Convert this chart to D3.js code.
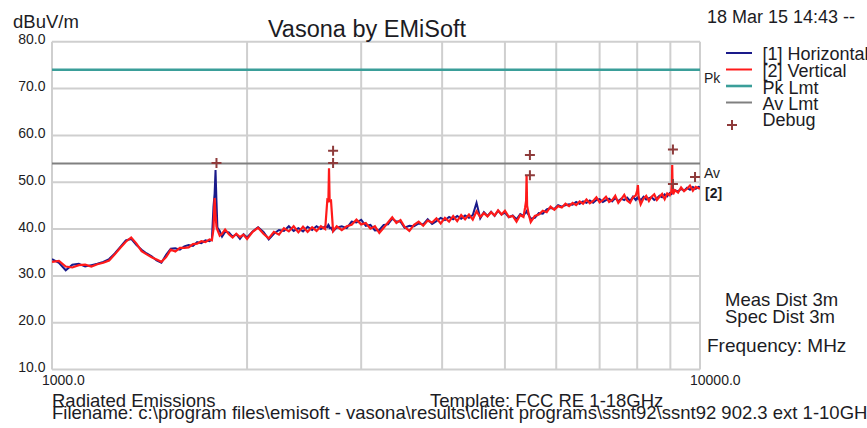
<!DOCTYPE html>
<html>
<head>
<meta charset="utf-8">
<script src="https://cdn.jsdelivr.net/npm/d3@7"></script>
<style>
  body { margin: 0; background: #fff; }
  svg { display: block; font-family: "Liberation Sans", Arial, sans-serif; }
  .grid line { stroke: #cfcfcf; stroke-width: 2; }
  .lbl { fill: #1c1c24; }
</style>
</head>
<body>
<svg id="chart"></svg>
<script>
// sweep frequencies (MHz)
const freqMHz = [
  1000,1025,1050,1075,1100,1125,1150,1175,1200,1225,
  1250,1275,1300,1325,1350,1375,1400,1425,1450,1475,
  1500,1525,1550,1575,1600,1625,1650,1675,1700,1725,
  1750,1765,1775,1782,1788,1794,1800,1815,1830,1850,
  1875,1900,1925,1950,1975,2000,2040,2080,2120,2160,
  2200,2240,2280,2320,2360,2400,2440,2480,2520,2560,
  2600,2640,2660,2670,2676,2682,2695,2715,2750,2800,
  2850,2900,2950,3000,3050,3100,3150,3200,3250,3300,
  3350,3400,3450,3500,3560,3620,3680,3740,3800,3860,
  3920,3980,4040,4100,4160,4220,4280,4340,4400,4460,
  4520,4580,4640,4700,4760,4820,4880,4940,5000,5070,
  5140,5210,5280,5340,5370,5390,5400,5410,5440,5480,
  5560,5640,5720,5800,5880,5960,6040,6120,6200,6280,
  6360,6440,6520,6600,6680,6760,6840,6920,7000,7080,
  7160,7240,7320,7400,7480,7560,7640,7720,7800,7880,
  7960,8000,8020,8040,8100,8180,8260,8340,8420,8500,
  8580,8660,8740,8820,8900,8980,9030,9050,9060,9070,
  9090,9150,9250,9350,9450,9550,9650,9750,9850,9950,
  10000
];

// [1] Horizontal, dBuV/m
const horizontal = [
  33.6,32.8,31.2,32.4,32.6,32.0,32.3,32.6,33.0,33.6,
  34.8,36.2,37.6,37.9,36.6,35.6,34.8,34.2,33.3,32.8,
  34.5,35.8,35.9,35.6,36.3,36.6,36.4,37.2,37.0,37.6,
  37.4,37.8,44.8,47.5,52.6,46.0,40.3,39.6,38.4,39.4,
  39.3,38.4,38.9,37.9,38.9,38.2,39.5,40.4,39.4,37.8,
  39.0,39.8,39.6,40.6,39.6,40.2,39.5,40.5,39.8,40.6,
  40.0,40.6,40.4,40.9,40.7,40.2,40.3,39.5,40.3,40.6,
  40.2,41.6,41.4,42.0,40.7,40.9,39.7,39.8,40.9,41.0,
  42.2,41.6,41.6,40.3,40.7,40.6,41.2,41.0,42.1,41.1,
  41.7,42.4,41.9,42.6,42.1,42.8,42.2,42.9,42.4,43.0,
  45.6,42.3,43.6,42.8,43.7,42.8,43.9,43.1,43.5,42.5,
  42.9,42.1,43.2,42.8,43.4,43.6,43.8,43.5,43.0,42.2,
  42.4,43.4,43.3,44.2,44.5,44.3,45.1,44.8,45.1,45.3,
  45.2,45.8,45.4,45.9,45.6,46.1,45.6,46.2,46.4,45.8,
  46.2,46.5,45.9,46.6,46.0,46.5,46.2,46.7,46.0,46.9,
  46.2,46.7,46.5,46.8,46.1,46.9,46.3,46.6,46.8,46.2,
  46.6,47.1,46.8,47.4,47.0,47.7,47.5,47.8,47.6,48.0,
  47.8,48.3,48.0,48.6,48.2,48.8,48.4,49.0,48.6,49.0,
  48.9
];

// [2] Vertical, dBuV/m
const vertical = [
  33.0,33.2,32.0,31.8,32.3,32.4,32.0,32.5,32.8,33.3,
  34.6,36.0,37.3,38.2,36.9,35.3,34.6,34.0,33.5,33.0,
  34.0,35.6,35.2,36.0,36.0,36.1,36.8,36.9,37.4,37.2,
  37.8,37.6,40.0,46.6,43.0,40.5,39.8,38.6,39.0,39.9,
  38.9,38.2,39.0,38.3,38.8,37.9,39.4,40.3,39.0,38.0,
  39.4,38.8,40.2,39.5,40.6,39.3,40.5,39.4,40.4,39.6,
  40.6,40.0,46.2,46.0,53.0,46.0,46.1,39.6,40.6,39.8,
  40.6,40.9,42.0,41.0,41.3,40.1,40.6,39.2,40.3,41.4,
  42.5,41.3,41.9,40.5,39.6,40.9,41.6,40.7,41.8,41.4,
  42.3,41.2,42.4,41.6,42.8,41.7,43.0,42.1,43.1,42.0,
  43.8,42.6,43.4,42.7,43.6,42.9,44.0,43.1,43.9,42.6,
  42.8,41.6,43.0,42.6,44.5,46.0,51.5,45.0,43.2,41.5,
  42.8,43.1,43.9,43.6,44.8,44.1,44.9,44.6,45.4,44.9,
  45.6,45.1,45.9,45.4,46.3,45.5,46.0,46.8,45.7,46.2,
  46.9,45.8,46.2,47.1,45.6,46.4,47.3,46.1,45.6,46.8,
  47.2,48.2,49.4,47.0,45.3,46.5,47.1,46.0,46.9,47.4,
  46.2,46.9,47.5,46.4,47.6,47.2,48.0,49.6,53.7,49.8,
  47.4,48.3,47.8,48.9,48.1,48.6,49.3,48.2,49.0,48.7,
  48.6
];

// debug markers
const debugFreq = [1794, 2715, 2715, 5464, 5464, 9083, 9083, 9825];
const debugVal  = [54.1, 56.7, 54.1, 55.8, 51.5, 57.0, 49.6, 51.1];

// limits
const pkLimit = 74;
const avLimit = 54;

const yTicks = [10, 20, 30, 40, 50, 60, 70, 80];
const xGrid = [1000, 2000, 3000, 4000, 5000, 6000, 7000, 8000, 9000, 10000];
const xLabels = [1000, 10000];

const legendNames = ['[1] Horizontal', '[2] Vertical', 'Pk Lmt', 'Av Lmt', 'Debug'];
const legendColors = ['#1a1a8a', '#ff1a1a', '#3a9e99', '#808080', '#8e3b3b'];

class EmiChart {
  constructor(_config) {
    this.config = {
      parentElement: _config.parentElement,
      containerWidth: _config.containerWidth || 867,
      containerHeight: _config.containerHeight || 428,
      margin: _config.margin || {top: 41.7, right: 167, bottom: 58.4, left: 52}
    };
    this.initVis();
  }

  initVis() {
    let vis = this;
    vis.width = vis.config.containerWidth - vis.config.margin.left - vis.config.margin.right;
    vis.height = vis.config.containerHeight - vis.config.margin.top - vis.config.margin.bottom;

    vis.xScale = d3.scaleLog().domain([1000, 10000]).range([0, vis.width]);
    vis.yScale = d3.scaleLinear().domain([10, 80]).range([vis.height, 0]);

    vis.svg = d3.select(vis.config.parentElement)
        .attr('width', vis.config.containerWidth)
        .attr('height', vis.config.containerHeight);

    vis.svg.append('rect')
        .attr('width', vis.config.containerWidth)
        .attr('height', vis.config.containerHeight)
        .attr('fill', '#fff');

    vis.chart = vis.svg.append('g')
        .attr('transform', `translate(${vis.config.margin.left},${vis.config.margin.top})`);

    vis.chart.append('clipPath').attr('id', 'plot-clip')
      .append('rect')
        .attr('width', vis.width)
        .attr('height', vis.height);

    // grid
    const grid = vis.chart.append('g').attr('class', 'grid');
    grid.selectAll('.hg').data(yTicks).join('line')
        .attr('x1', 0).attr('x2', vis.width)
        .attr('y1', d => vis.yScale(d)).attr('y2', d => vis.yScale(d));
    grid.selectAll('.vg').data(xGrid).join('line')
        .attr('y1', 0).attr('y2', vis.height)
        .attr('x1', d => vis.xScale(d)).attr('x2', d => vis.xScale(d));

    // y axis labels
    vis.yAxis = d3.axisLeft(vis.yScale)
        .tickValues(yTicks)
        .tickSize(0)
        .tickPadding(6.5)
        .tickFormat(d3.format('.1f'));
    vis.yAxisG = vis.chart.append('g').call(vis.yAxis);
    vis.yAxisG.select('.domain').remove();
    vis.yAxisG.selectAll('text')
        .attr('dy', '2px')
        .attr('fill', '#1c1c24')
        .attr('font-size', '14px')
        .attr('font-family', '"Liberation Sans", Arial, sans-serif');

    // x labels (only ends)
    vis.chart.selectAll('.xl').data(xLabels).join('text')
        .attr('class', 'lbl')
        .attr('x', d => vis.xScale(d) - 10)
        .attr('y', vis.height + 15.5)
        .attr('font-size', '14px')
        .text(d3.format('.1f'));

    vis.marks = vis.chart.append('g').attr('clip-path', 'url(#plot-clip)');
  }

  updateVis() {
    let vis = this;
    vis.hData = freqMHz.map((f, i) => ({f: f, v: horizontal[i]}));
    vis.vData = freqMHz.map((f, i) => ({f: f, v: vertical[i]}));
    vis.dbg = debugFreq.map((f, i) => ({f: f, v: debugVal[i]}));
    vis.line = d3.line()
        .x(d => vis.xScale(d.f))
        .y(d => vis.yScale(d.v));
    vis.renderVis();
  }

  renderVis() {
    let vis = this;
    const w = vis.width;

    // limit lines
    vis.marks.append('line')
        .attr('x1', 0).attr('x2', w)
        .attr('y1', vis.yScale(pkLimit)).attr('y2', vis.yScale(pkLimit))
        .attr('stroke', legendColors[2]).attr('stroke-width', 2.6);
    vis.marks.append('line')
        .attr('x1', 0).attr('x2', w)
        .attr('y1', vis.yScale(avLimit)).attr('y2', vis.yScale(avLimit))
        .attr('stroke', legendColors[3]).attr('stroke-width', 2);

    vis.marks.append('path')
        .datum(vis.hData)
        .attr('fill', 'none')
        .attr('stroke', legendColors[0])
        .attr('stroke-width', 2)
        .attr('d', vis.line);

    vis.marks.append('path')
        .datum(vis.vData)
        .attr('fill', 'none')
        .attr('stroke', legendColors[1])
        .attr('stroke-width', 2.2)
        .attr('d', vis.line);

    // debug crosses
    vis.chart.selectAll('.dbg').data(vis.dbg).join('path')
        .attr('class', 'dbg')
        .attr('d', d => {
          const cx = vis.xScale(d.f), cy = vis.yScale(d.v);
          return `M${cx - 5},${cy}H${cx + 5}M${cx},${cy - 5}V${cy + 5}`;
        })
        .attr('stroke', legendColors[4])
        .attr('stroke-width', 2);

    // right side markers
    vis.chart.append('text').attr('class', 'lbl')
        .attr('x', w + 4).attr('y', vis.yScale(pkLimit) + 13)
        .attr('font-size', '14px').text('Pk');
    vis.chart.append('text').attr('class', 'lbl')
        .attr('x', w + 4).attr('y', vis.yScale(avLimit) + 14.5)
        .attr('font-size', '14px').text('Av');
    vis.chart.append('text').attr('class', 'lbl')
        .attr('x', w + 5).attr('y', vis.yScale(vertical[vertical.length - 1]) + 9)
        .attr('font-size', '14px').attr('font-weight', 'bold').text('[2]');

    // top texts
    vis.svg.append('text').attr('class', 'lbl')
        .attr('x', 13).attr('y', 28)
        .attr('font-size', '18.5px').text('dBuV/m');
    vis.svg.append('text').attr('class', 'lbl')
        .attr('x', 367).attr('y', 36.5)
        .attr('text-anchor', 'middle')
        .attr('font-size', '23.5px').text('Vasona by EMiSoft');
    vis.svg.append('text').attr('class', 'lbl')
        .attr('x', 707).attr('y', 22.5)
        .attr('font-size', '18px').text('18 Mar 15 14:43 --');

    // legend
    const legend = vis.svg.append('g').attr('transform', 'translate(726,0)');
    const rowY = [53, 69.5, 86, 102.5, 125];
    const textY = [60, 76.5, 93.5, 110, 126];
    legendNames.forEach((name, i) => {
      if (i < 4) {
        legend.append('line')
            .attr('x1', 0).attr('x2', 26)
            .attr('y1', rowY[i]).attr('y2', rowY[i])
            .attr('stroke', legendColors[i])
            .attr('stroke-width', i === 2 ? 2.6 : 2);
      } else {
        legend.append('path')
            .attr('d', `M1,${rowY[i]}H11M6,${rowY[i] - 5}V${rowY[i] + 5}`)
            .attr('stroke', legendColors[i])
            .attr('stroke-width', 2);
      }
      legend.append('text').attr('class', 'lbl')
          .attr('x', 36.5).attr('y', textY[i])
          .attr('font-size', '18px').text(name);
    });

    // right notes
    vis.svg.append('text').attr('class', 'lbl')
        .attr('x', 725).attr('y', 306).attr('font-size', '18.5px').text('Meas Dist 3m');
    vis.svg.append('text').attr('class', 'lbl')
        .attr('x', 725).attr('y', 323).attr('font-size', '18.5px').text('Spec Dist 3m');
    vis.svg.append('text').attr('class', 'lbl')
        .attr('x', 707).attr('y', 352).attr('font-size', '19px').text('Frequency: MHz');

    // footer
    vis.svg.append('text').attr('class', 'lbl')
        .attr('x', 52).attr('y', 406.5).attr('font-size', '18.5px').text('Radiated Emissions');
    vis.svg.append('text').attr('class', 'lbl')
        .attr('x', 430).attr('y', 406.5).attr('font-size', '18.5px').text('Template: FCC RE 1-18GHz');
    vis.svg.append('text').attr('class', 'lbl')
        .attr('x', 52).attr('y', 418.5).attr('font-size', '18.5px')
        .text('Filename: c:\\program files\\emisoft - vasona\\results\\client programs\\ssnt92\\ssnt92 902.3 ext 1-10GHz');
  }
}

const chart = new EmiChart({parentElement: '#chart'});
chart.updateVis();
</script>
</body>
</html>
